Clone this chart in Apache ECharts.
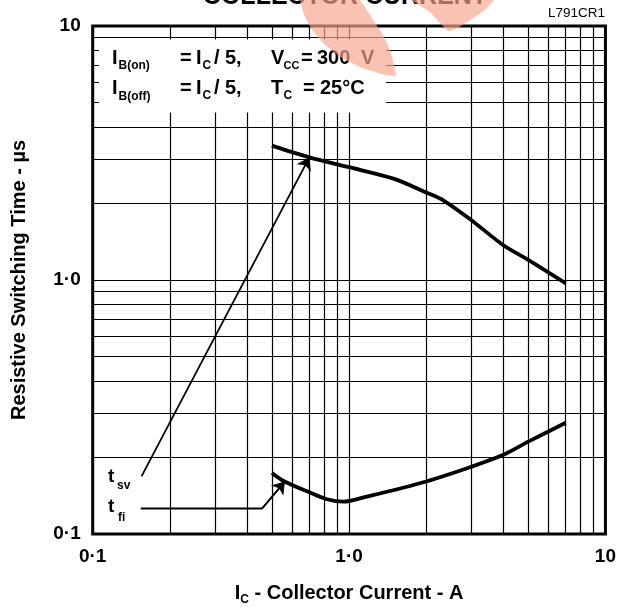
<!DOCTYPE html>
<html>
<head>
<meta charset="utf-8">
<script src="https://cdn.jsdelivr.net/npm/echarts@6/dist/echarts.min.js"></script>
<style>
html,body{margin:0;padding:0;background:#fff;}
#chart{width:619px;height:611px;}
</style>
</head>
<body>
<div id="chart"></div>
<script>
// ---- data ----
const tsvCurrent = [0.5, 0.7, 1.0, 1.5, 2.0, 2.33, 3.0, 4.0, 5.0, 7.0];
const tsvTime    = [3.38, 3.04, 2.78, 2.50, 2.21, 2.06, 1.72, 1.37, 1.20, 0.97];
const tfiCurrent = [0.5, 0.56, 0.7, 0.82, 0.95, 1.13, 2.0, 3.0, 4.0, 5.0, 7.0];
const tfiTime    = [0.174, 0.161, 0.146, 0.137, 0.134, 0.139, 0.161, 0.184, 0.205, 0.231, 0.274];
const tsvArrow   = [[0.155, 0.1686], [0.7, 3.04]];
const tfiLeader  = [[0.154, 0.126], [0.458, 0.126], [0.562, 0.161]];
const xGridValues = [0.2,0.3,0.4,0.5,0.6,0.7,0.8,0.9,1,2,3,4,5,6,7,8,9];
const yGridValues = [0.2,0.3,0.4,0.5,0.6,0.7,0.8,0.9,1,2,3,4,5,6,7,8,9];
const xTickValues = [0.1, 1, 10];
const xTickLabels = ['0·1', '1·0', '10'];
const yTickValues = [0.1, 1, 10];
const yTickLabels = ['0·1', '1·0', '10'];

function tickLabel(values, labels) {
  return function (v) {
    for (let i = 0; i < values.length; i++) {
      if (Math.abs(Math.log10(v) - Math.log10(values[i])) < 1e-6) return labels[i];
    }
    return '';
  };
}
function zip(a, b) { return a.map((v, i) => [v, b[i]]); }

const FONT = 'Liberation Sans';
const chart = echarts.init(document.getElementById('chart'), null, {renderer: 'canvas'});

function txt(text, x, y, size, extra) {
  return Object.assign({
    type: 'text', z: 20,
    style: {text: text, x: x, y: y, fontFamily: FONT, fontWeight: 'bold', fontSize: size,
            fill: '#000', align: 'left', verticalAlign: 'middle'}
  }, extra || {});
}
const M = 20, S = 12;
const graphics = [
  {type: 'rect', z: 15, shape: {x: 99, y: 39.5, width: 287, height: 73}, style: {fill: '#fff'}},
  // row 1
  txt('I', 112, 58, M), txt('B(on)', 118.5, 65.5, S),
  txt('=', 180, 58, M), txt('I', 196, 58, M), txt('C', 202.5, 65.5, S), txt('/', 214, 58, M),
  txt('5,', 225, 58, M),
  txt('V', 271, 58, M), txt('CC', 283.5, 65.5, 11), txt('=', 301, 58, M), txt('300', 317, 58, M),
  txt('V', 361, 58, M),
  // row 2
  txt('I', 112, 88, M), txt('B(off)', 118.5, 97, S),
  txt('=', 180, 88, M), txt('I', 196, 88, M), txt('C', 202.5, 95.5, S), txt('/', 214, 88, M),
  txt('5,', 225, 88, M),
  txt('T', 271, 88, M), txt('C', 283.5, 95.5, S), txt('=', 303, 88, M), txt('25°C', 320, 88, M),
  // curve labels
  txt('t', 108, 477, 19), txt('sv', 117, 485.5, S),
  txt('t', 108, 507, 19), txt('fi', 118, 517.5, S),
  // header texts
  {type: 'text', z: 20, style: {text: 'COLLECTOR CURRENT', x: 345, y: -3, fontFamily: FONT,
    fontWeight: 'bold', fontSize: 25, fill: '#000', align: 'center', verticalAlign: 'middle'}},
  {type: 'text', z: 20, style: {text: 'L791CR1', x: 605, y: 13, fontFamily: FONT,
    fontSize: 13.5, fill: '#000', align: 'right', verticalAlign: 'middle'}},
  // watermark
  {type: 'polygon', z: 30, shape: {points: [[300,0],[304,15],[312,30],[325,45],[342,58],[362,68],
      [385,75],[396,76],[394,65],[390,50],[383,35],[372,18],[360,0]]},
    style: {fill: 'rgba(247,165,141,0.68)'}},
  {type: 'polygon', z: 30, shape: {points: [[411,0],[494,0],[485,10],[470,20],[456,29],[448,31],
      [442,25],[430,12]]}, style: {fill: 'rgba(247,165,141,0.68)'}}
];

const option = {
  animation: false,
  backgroundColor: '#fff',
  grid: {left: 92.7, right: 13.3, top: 26, bottom: 73, show: true, borderColor: '#000', borderWidth: 3,
         backgroundColor: 'transparent'},
  xAxis: {
    type: 'log', logBase: 10, min: 0.1, max: 10, interval: 1,
    axisLine: {show: false}, axisTick: {show: false}, splitLine: {show: false},
    axisLabel: {formatter: tickLabel(xTickValues, xTickLabels), color: '#000', fontFamily: FONT,
                fontWeight: 'bold', fontSize: 19, margin: 13},
    name: '{b|I}{s|C}{b| - Collector Current - A}', nameLocation: 'middle', nameGap: 46,
    nameTextStyle: {rich: {
      b: {fontFamily: FONT, fontWeight: 'bold', fontSize: 20, color: '#000'},
      s: {fontFamily: FONT, fontWeight: 'bold', fontSize: 12, color: '#000', padding: [14, 0, 0, 0]}
    }}
  },
  yAxis: {
    type: 'log', logBase: 10, min: 0.1, max: 10, interval: 1,
    axisLine: {show: false}, axisTick: {show: false}, splitLine: {show: false},
    axisLabel: {formatter: tickLabel(yTickValues, yTickLabels), color: '#000', fontFamily: FONT,
                fontWeight: 'bold', fontSize: 19, margin: 12},
    name: 'Resistive Switching Time - µs', nameLocation: 'middle', nameGap: 63,
    nameTextStyle: {fontFamily: FONT, fontWeight: 'bold', fontSize: 20, color: '#000'}
  },
  series: [
    {
      type: 'line', data: [], silent: true, z: 2,
      markLine: {
        silent: true, symbol: ['none', 'none'], label: {show: false}, animation: false,
        lineStyle: {type: 'solid', color: '#000', width: 1.2},
        emphasis: {disabled: true},
        data: xGridValues.map(v => ({xAxis: v})).concat(yGridValues.map(v => ({yAxis: v})))
      }
    },
    {
      name: 'tsv', type: 'line', data: zip(tsvCurrent, tsvTime), smooth: 0.3, symbol: 'none', z: 5,
      lineStyle: {color: '#000', width: 3.8}
    },
    {
      name: 'tfi', type: 'line', data: zip(tfiCurrent, tfiTime), smooth: 0.3, symbol: 'none', z: 5,
      lineStyle: {color: '#000', width: 3.8}
    },
    {
      type: 'line', data: tfiLeader, symbol: 'none', z: 6, lineStyle: {color: '#000', width: 1.8},
      markLine: {
        silent: true, symbol: ['none', 'arrow'], symbolSize: 12, label: {show: false},
        lineStyle: {type: 'solid', color: '#000', width: 1.8},
        emphasis: {disabled: true},
        data: [[{coord: tfiLeader[1]}, {coord: tfiLeader[2]}],
               [{coord: tsvArrow[0]}, {coord: tsvArrow[1]}]]
      }
    }
  ],
  graphic: graphics
};
chart.setOption(option);
</script>
</body>
</html>
